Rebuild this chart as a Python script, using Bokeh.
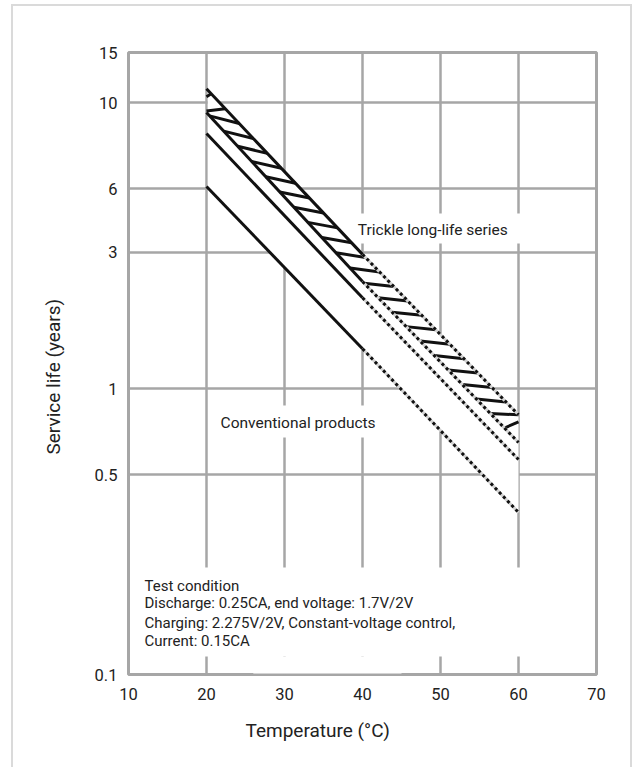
import numpy as np
from bokeh.plotting import figure
from bokeh.models import Range1d, FixedTicker, Label, Title
from bokeh.embed import file_html
from bokeh.resources import INLINE

# ---- data ----
temps = [20, 40, 60]                     # °C : start, end of solid part, end of dotted part
trickle_upper = [11.2, 2.95, 0.81]       # years
trickle_lower = [9.25, 2.37, 0.648]
conv_upper = [7.81, 2.08, 0.565]
conv_lower = [5.10, 1.38, 0.369]

x_ticks = [10, 20, 30, 40, 50, 60, 70]
y_ticks = [0.1, 0.5, 1, 3, 5, 10, 15]
y_tick_text = ["0.1", "0.5", "1", "3", "6", "10", "15"]

x_title = "Temperature (°C)"
y_title = "Service life (years)"
trickle_label = "Trickle long-life series"
conv_label = "Conventional products"
note_lines = ["Test condition",
              "Discharge: 0.25CA, end voltage: 1.7V/2V",
              "Charging: 2.275V/2V, Constant-voltage control,",
              "Current: 0.15CA"]

FONT = "Roboto"
GRID = "#a6a6a6"
INK = "#111111"
TXT = "#222222"

p = figure(width=621, height=763, x_range=Range1d(10, 70), y_range=Range1d(0.1, 15),
           y_axis_type="log", output_backend="svg", toolbar_location=None,
           min_border_left=115, min_border_right=38, min_border_top=46, min_border_bottom=95)
p.styles = {"margin-left": "11px", "margin-top": "4px",
            "border-left": "2px solid #dadada", "border-top": "2px solid #dadada",
            "border-right": "2px solid #dadada"}
p.background_fill_color = "white"
p.border_fill_color = "white"
p.outline_line_color = GRID
p.outline_line_width = 3

for ax, ticks in ((p.xaxis, x_ticks), (p.yaxis, y_ticks)):
    ax.ticker = FixedTicker(ticks=ticks)
    ax.axis_line_color = None
    ax.major_tick_line_color = None
    ax.minor_tick_line_color = None
    ax.major_label_text_font = FONT
    ax.major_label_text_font_size = "16.5px"
    ax.major_label_text_color = TXT
p.yaxis.major_label_overrides = {v: t for v, t in zip(y_ticks, y_tick_text)}
p.xaxis.major_label_standoff = 7
p.yaxis.major_label_standoff = 5

p.xgrid.ticker = FixedTicker(ticks=x_ticks)
p.ygrid.ticker = FixedTicker(ticks=y_ticks)
for g in (p.xgrid, p.ygrid):
    g.grid_line_color = GRID
    g.grid_line_width = 2.5
    g.minor_grid_line_color = None

p.add_layout(Title(text=x_title, align="left", offset=117, standoff=29, text_font=FONT,
                   text_font_size="19px", text_font_style="normal", text_color=TXT), "below")
p.add_layout(Title(text=y_title, align="left", offset=220, standoff=53, text_font=FONT,
                   text_font_size="19px", text_font_style="normal", text_color=TXT), "left")

# white fill of the family band (hides grid), kept just right of the 20 °C grid line
lu, ll = np.log10(trickle_upper), np.log10(trickle_lower)
lc = np.log10(conv_lower)
fill_x = [temps[0] + 0.17] + temps[1:]
p.varea(x=fill_x, y1=10 ** np.interp(fill_x, temps, lc), y2=10 ** np.interp(fill_x, temps, lu),
        fill_color="white")

# white boxes behind texts
p.quad(left=[38.5, 20.8, 10.3, 26], right=[60.4, 42.1, 69.7, 45],
       bottom=[3.22, 0.675, 0.1156, 0.1008], top=[4.10, 0.873, 0.2368, 0.1156],
       fill_color="white", line_color=None)

# hatch strokes between trickle_lower (left end) and trickle_upper (right end)
def up(t): return np.interp(t, temps, lu)
def lo(t): return np.interp(t, temps, ll)
step, run = 1.8, 3.8
x0s, y0s, x1s, y1s = [], [], [], []
for t0 in np.arange(20 - run + 0.6, 60.0, step):
    t1 = t0 + run
    a = np.array([t0, lo(t0)])
    b = np.array([t1, up(t1)])
    s0 = max(0.0, (20 - t0) / run)
    s1 = min(1.0, (60 - t0) / run)
    if s1 <= s0:
        continue
    pa = a + (b - a) * s0
    pb = a + (b - a) * s1
    x0s.append(pa[0]); y0s.append(10 ** pa[1]); x1s.append(pb[0]); y1s.append(10 ** pb[1])
p.segment(x0=x0s, y0=y0s, x1=x1s, y1=y1s, line_color=INK, line_width=3)

# lines: solid 20-40, dotted 40-60
for series in (trickle_upper, trickle_lower, conv_upper, conv_lower):
    p.line(temps[:2], series[:2], line_color=INK, line_width=3)
    p.line(temps[1:], series[1:], line_color="#d4d4d4", line_width=3)
    p.line(temps[1:], series[1:], line_color=INK, line_width=3, line_dash="3 3")

def lab(x, y, text, size, **kw):
    p.add_layout(Label(x=x, y=y, text=text, text_font=FONT, text_font_size=size,
                       text_color=TXT, text_baseline="middle", **kw))

lab(39.4, 3.6, trickle_label, "15.5px")
lab(21.8, 0.7555, conv_label, "15.5px")
for txt, yv in zip(note_lines, [0.2048, 0.1772, 0.152, 0.1315]):
    lab(12.05, yv, txt, "15px")

open("out.html", "w").write(file_html(p, INLINE))
